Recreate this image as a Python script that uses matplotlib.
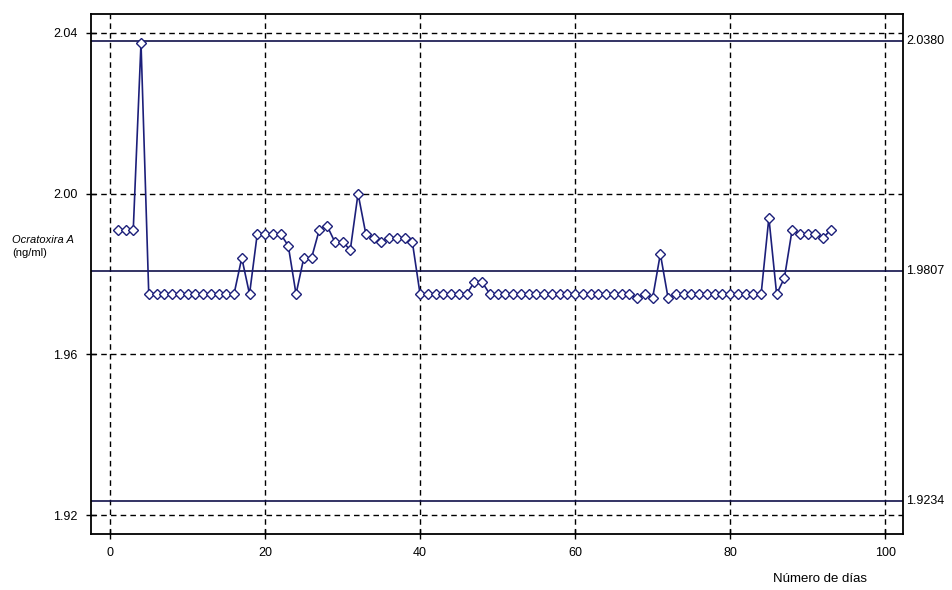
import matplotlib
matplotlib.use("Agg")
import matplotlib.pyplot as plt
import numpy as np

# valores diarios de ocratoxina A (ng/ml), dias 1..93
dias = list(range(1, 94))
valores = ([1.991] * 3 + [2.0375] + [1.975] * 12 + [1.984, 1.975]
           + [1.990] * 4 + [1.987, 1.975, 1.984, 1.984, 1.991, 1.992,
                            1.988, 1.988, 1.986, 2.000, 1.990, 1.989,
                            1.988, 1.989, 1.989, 1.989, 1.988]
           + [1.975] * 7 + [1.978, 1.978] + [1.975] * 19
           + [1.974, 1.975, 1.974, 1.985, 1.974] + [1.975] * 12
           + [1.994, 1.975, 1.979, 1.991, 1.990, 1.990, 1.990, 1.989, 1.991])
assert len(valores) == len(dias)

limites = [2.0380, 1.9807, 1.9234]
limites_txt = ["2.0380", "1.9807", "1.9234"]
xticks = [0, 20, 40, 60, 80, 100]
yticks = [1.92, 1.96, 2.00, 2.04]
ytick_txt = ["1.92", "1.96", "2.00", "2.04"]

plt.rcParams['font.family'] = ['Liberation Sans', 'DejaVu Sans']

fig = plt.figure(figsize=(9.52, 5.90), dpi=100)
ax = fig.add_axes([0.0956, 0.0949, 0.8529, 0.8814])

azul = '#1c1f7a'
for lim in limites:
    ax.axhline(lim, color='#10104a', lw=1.2, zorder=2)

ax.plot(dias, valores, '-', color=azul, lw=1.2, zorder=3)
ax.plot(dias, valores, 'D', markersize=5.3, markerfacecolor='white',
        markeredgecolor=azul, markeredgewidth=1.0, zorder=4)

ax.set_xlim(-2.45, 102.3)
ax.set_ylim(1.9153, 2.0447)
ax.set_xticks(xticks)
ax.set_yticks(yticks)
ax.set_yticklabels(ytick_txt)
ax.tick_params(direction='inout', length=7, width=1, labelsize=9, pad=6)
ax.grid(True, linestyle=(0, (4, 3)), color='black', lw=1.0)
ax.set_axisbelow(True)
for s in ax.spines.values():
    s.set_linewidth(1.3)

for lim, txt in zip(limites, limites_txt):
    ax.text(1.004, lim, txt, transform=ax.get_yaxis_transform(),
            ha='left', va='center', fontsize=9)

fig.text(12 / 952, 1 - 240 / 590, "Ocratoxira A", fontsize=8, style='italic',
         ha='left', va='center')
fig.text(12 / 952, 1 - 253 / 590, "(ng/ml)", fontsize=8,
         ha='left', va='center')
fig.text(820 / 952, 1 - 579 / 590, "Número de días", fontsize=9.5,
         ha='center', va='center')

fig.savefig("out.png", dpi=100)
